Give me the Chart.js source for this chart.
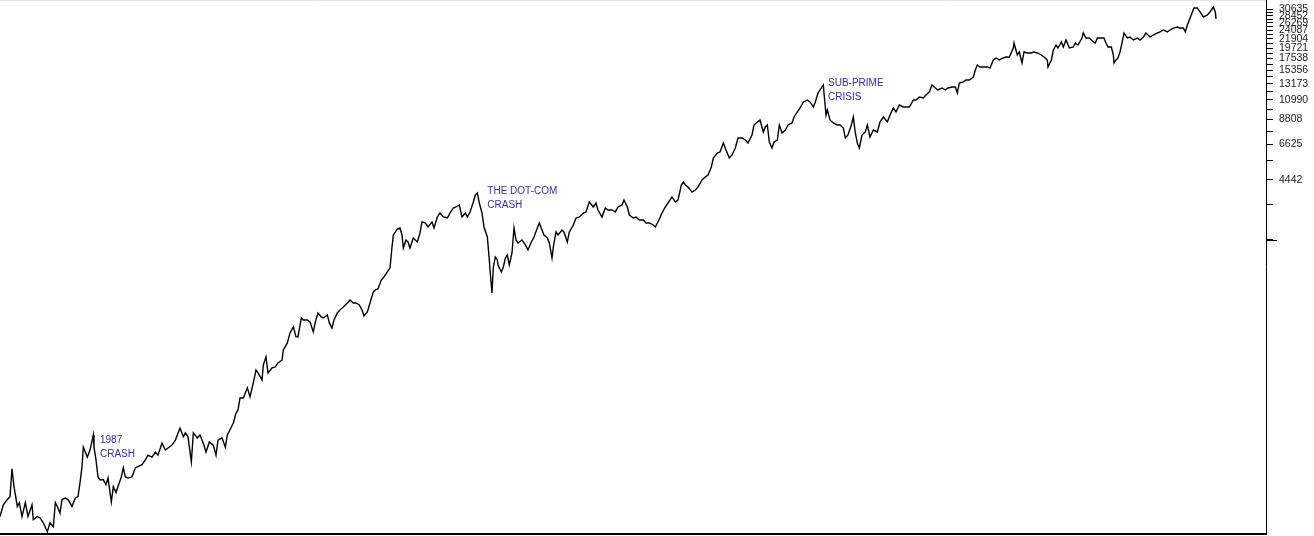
<!DOCTYPE html>
<html><head><meta charset="utf-8">
<script src="https://cdn.jsdelivr.net/npm/chart.js@4.4.1/dist/chart.umd.min.js"></script>
<style>html,body{margin:0;padding:0;background:#fff;overflow:hidden}#wrap{width:1314px;height:536px;position:relative;background:#fff}</style>
</head><body><div id="wrap"><canvas id="c" width="1314" height="536"></canvas></div>
<script>
// Weekly index (weeks since start of 1985) and closing values
const weeksA=[0,5,11,15,18,21,26,29,33,38,42,48,50,56,60,65,71,75,80,83,86,90,93,98,102,108,113,117,120,123,125,131,135,140,141,144,147,150,155,159,162,167,170,174,177,182,185,188,192,198,203,207,213,218,222,228,233,237,243,248,252,258,263,266,270,275,278,282,287,290,296,300,305,309,314,320,324,327,333,338,341,345,350,354];
const valuesA=[99,113,120,124,170,139,111,116,99,116,99,113,95.5,99,97.7,92.3,83.4,92.3,88.2,116,111,103,120,122,120,111,122,124,145,174,217,194,210,249,217,188,155,150,150,142,153,117,139,130,139,155,172,155,153,155,172,174,178,188,198,194,205,198,227,210,215,222,235,249,269,244,255,244,184,255,241,249,227,205,230,222,198,235,241,217,249,264,285,319];
const weeksB=[357,360,365,371,375,380,384,387,393,395,399,402,408,413,417,423,425,431,435,440,444,447,452,455,461,465,470,473,477,482,485,491,494,498,501,506,510,515,521,525,530,534,539,543,546,551,555,560,563,567,572,576,581,585,588,590,596,600,603,605,609,612,615,620,626,630,633,638,642,648,651,656,660,665,671,675,680,684,689,693,698,701,705,710,713,716,719,723,726,731,734];
const valuesB=[330,378,378,424,383,449,519,502,464,549,602,502,531,537,562,581,651,705,789,844,754,754,934,913,913,893,798,893,989,945,934,967,883,834,913,989,1023,1058,1107,1145,1107,1107,1082,1023,956,1000,1107,1254,1282,1296,1435,1485,1571,1643,2083,2386,2553,2582,2386,2060,2255,2205,2060,2307,2205,2441,2765,2733,2612,2765,2582,2924,3059,2924,2892,3059,3237,3274,3348,2924,3059,2924,3095,3464,3749,3835,3425,3059,2612,2333,1799];
const weeksC=[735,738,740,743,746,747,752,755,758,761,764,768,771,774,777,783,788,792,797,801,806,809,813,816,821,824,828,830,834,837,843,846,851,854,860,864,869,875,879,884,890,894,897,903,908,912,918,923,927,933,936,941,944,950,954,959,965,969,974,980,983,987,993,998,1002,1008,1013,1017];
const valuesC=[1607,1239,1662,1861,1799,1700,1571,1662,1839,1903,1700,1947,2582,2255,2180,2255,2131,2014,2205,2333,2582,2733,2525,2386,2307,2180,1839,2083,2469,2386,2525,2469,2205,2469,2671,2892,2924,3059,3095,3464,3274,3425,3165,2924,3237,3165,3165,3095,3274,3348,3543,3274,2991,2892,2924,2827,2827,2733,2733,2671,2612,2765,3059,3274,3425,3666,3464,3543];
const weeksD=[1022,1025,1028,1032,1038,1043,1047,1053,1058,1062,1067,1070,1076,1080,1085,1089,1094,1098,1103,1107,1113,1118,1122,1128,1131,1136,1140,1145,1148,1151,1154,1158,1161,1166,1169,1173,1178,1182,1188,1191,1196,1200,1205,1211,1215,1220,1223,1227,1232,1235,1236,1239,1241,1245,1250,1256,1260,1265,1268,1272];
const valuesD=[4197,4343,4197,4104,3878,3967,4104,4442,4597,4701,5147,5696,6028,6097,6746,6236,5696,5893,6375,7137,7137,6979,6746,7384,8269,8558,8751,7642,8086,8269,6825,6375,6825,6979,8269,7553,7814,8269,8462,9054,9583,10018,10726,10968,10726,10135,10726,11873,12561,12995,11873,9259,9799,8751,8462,8269,8269,7993,7137,7384];
const weeksE=[1277,1280,1283,1286,1289,1293,1298,1301,1305,1310,1316,1320,1325,1331,1335,1340,1344,1349,1355,1359,1364,1370,1374,1379,1385,1389,1394,1398,1403,1407,1413,1418,1422,1428,1433,1436,1439,1445,1449,1454,1460,1463,1466,1470,1475,1481,1485,1490,1494,1499,1505,1509,1514,1520,1521,1526,1529,1533,1536,1541,1547,1551,1556,1562,1566,1571,1572,1577,1580,1584,1587,1592,1595,1599,1604,1610,1613,1617,1623,1625,1629,1634,1640,1643,1646,1652,1656,1659,1662,1667,1670,1671,1674,1677,1680,1683,1686,1691,1695,1700,1706,1710,1715,1719,1725,1730,1736,1740,1745,1751,1755,1760,1766,1770,1775,1778,1781,1784,1788,1791,1796,1800,1805,1811,1815,1820,1823,1824];
const valuesE=[8269,9054,7553,6746,6375,7384,7642,8269,7220,7814,7642,8558,9054,8558,9259,10018,9583,10364,10135,10135,10135,10968,10968,11349,11214,11606,12012,12995,12561,12282,12561,12282,12561,12707,12707,11873,13293,13449,13752,13752,14226,15396,16291,15930,15930,15930,15746,17240,17633,17240,17633,17830,17830,19738,20889,18238,18875,16665,18875,18656,18656,18875,18656,18238,17830,17240,15930,17240,19300,20421,19738,21134,19968,21610,19738,19968,20889,20421,22099,23387,22099,22099,21134,20889,22099,22099,22099,20889,19968,19968,18238,16665,17240,17633,18875,20889,23387,22099,22356,21610,22099,21610,22356,23387,22356,22862,23387,23663,24195,23663,24195,24730,25028,24730,24730,23663,25595,27087,29314,31001,31001,29658,28022,28655,29658,31374,29658,27396];

// Right axis tick values
const labeledTicks=[4442,6625,8808,10990,13173,15356,17538,19721,21904,24087,26269,28452,30635];
const minorTicks=[2259,3350.5,5533.5,7716.5,9899,12081.5,14264.5,16447,18629.5,20812.5,22995.5,25178,27360.5,29543.5];
const baseTick=2259;

// Annotations (anchored in data coordinates)
const annotations=[
  {lines:['1987','CRASH'],week:150,value:235},
  {lines:['THE DOT-COM','CRASH'],week:731,value:3923},
  {lines:['SUB-PRIME','CRISIS'],week:1242,value:13293}
];

const weeks=[].concat(weeksA,weeksB,weeksC,weeksD,weeksE);
const values=[].concat(valuesA,valuesB,valuesC,valuesD,valuesE);
const points=weeks.map((w,i)=>({x:w,y:values[i]}));
const allTicks=[...labeledTicks,...minorTicks].sort((a,b)=>a-b);

const decor={
  id:'decor',
  beforeDraw(chart){
    const {ctx,chartArea}=chart;
    ctx.save();
    ctx.strokeStyle='#e4e4e4';ctx.lineWidth=1;
    ctx.beginPath();ctx.moveTo(0,0.5);ctx.lineTo(chartArea.right,0.5);ctx.stroke();
    ctx.restore();
  },
  afterDraw(chart){
    const {ctx,chartArea,scales}=chart;
    ctx.save();
    const yb=Math.round(scales.y.getPixelForValue(baseTick))+0.5;
    ctx.strokeStyle='#000';ctx.lineWidth=1;
    ctx.beginPath();ctx.moveTo(chartArea.right,yb);ctx.lineTo(chartArea.right+11,yb);ctx.stroke();
    ctx.fillStyle='#2d2dbe';
    ctx.font='10px "Liberation Sans", Arial, sans-serif';
    ctx.textBaseline='middle';ctx.textAlign='left';
    annotations.forEach(a=>{
      const x=scales.x.getPixelForValue(a.week);
      const y=scales.y.getPixelForValue(a.value);
      a.lines.forEach((t,i)=>ctx.fillText(t,x,y+i*14));
    });
    ctx.restore();
  }
};

new Chart(document.getElementById('c'),{
  type:'line',
  data:{datasets:[{data:points,borderColor:'#000',borderWidth:1.4,pointRadius:0,tension:0,fill:false}]},
  options:{
    responsive:false,animation:false,devicePixelRatio:1,
    layout:{padding:{top:0,bottom:2,left:0,right:0}},
    plugins:{legend:{display:false},tooltip:{enabled:false}},
    scales:{
      x:{type:'linear',min:0,max:1899,
        afterFit:s=>{s.height=0;s.paddingLeft=0;s.paddingRight=0;s.paddingTop=0;s.paddingBottom=0;},
        grid:{display:false,drawTicks:false},
        ticks:{display:false},
        border:{display:true,color:'#000',width:2}},
      y:{type:'logarithmic',position:'right',min:81.3,max:33955,bounds:'data',
        afterBuildTicks:s=>{s.ticks=allTicks.map(v=>({value:v}));},
        afterFit:s=>{s.width=48;s.paddingTop=0;s.paddingBottom=0;s.paddingLeft=0;s.paddingRight=0;},
        grid:{drawOnChartArea:false,drawTicks:true,tickLength:7,color:'#000',tickColor:'#000',lineWidth:1},
        border:{display:true,color:'#000',width:1},
        ticks:{autoSkip:false,padding:6,color:'#222',
          font:{family:'"Liberation Sans", Arial, sans-serif',size:10.5},
          callback:v=>labeledTicks.includes(v)?String(v):''}}
    }
  },
  plugins:[decor]
});
</script></body></html>
